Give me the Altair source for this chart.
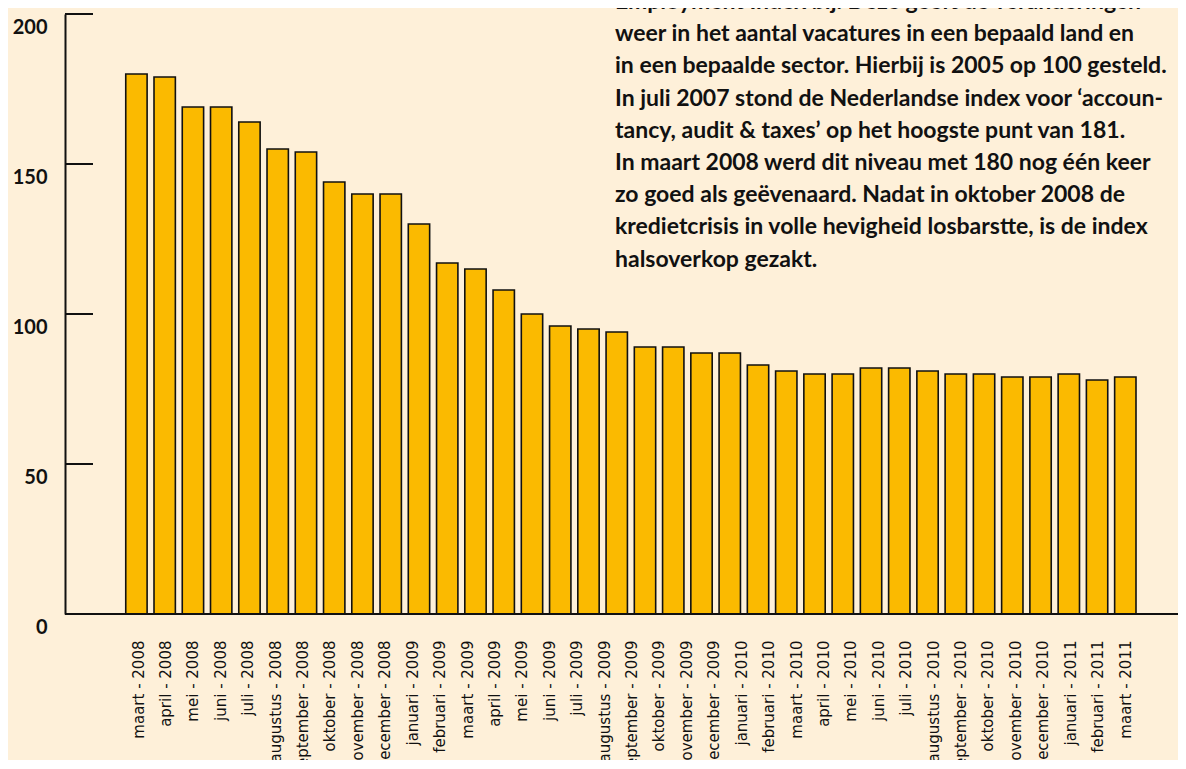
import altair as alt
import pandas as pd

# Bar values (36 bars)
bar_values = [180, 179, 169, 169, 164, 155, 154, 144, 140, 140,
              130, 117, 115, 108, 100, 96, 95, 94, 89, 89,
              87, 87, 83, 81, 80, 80, 82, 82, 81, 80,
              80, 79, 79, 80, 78, 79]

# Month labels printed under the axis (37 labels)
month_labels = [
    "maart - 2008", "april - 2008", "mei - 2008", "juni - 2008", "juli - 2008",
    "augustus - 2008", "september - 2008", "oktober - 2008", "november - 2008",
    "december - 2008", "januari - 2009", "februari - 2009", "maart - 2009",
    "april - 2009", "mei - 2009", "juni - 2009", "juli - 2009", "augustus - 2009",
    "september - 2009", "oktober - 2009", "november - 2009", "december - 2009",
    "januari - 2010", "februari - 2010", "maart - 2010", "april - 2010",
    "mei - 2010", "juni - 2010", "juli - 2010", "augustus - 2010",
    "september - 2010", "oktober - 2010", "november - 2010", "december - 2010",
    "januari - 2011", "februari - 2011", "maart - 2011",
]

y_ticks = [0, 50, 100, 150, 200]
inner_ticks = [50, 100, 150, 200]
baseline_value = [0]

annotation_lines = [
    "Employment Index bij. Deze geeft de veranderingen",
    "weer in het aantal vacatures in een bepaald land en",
    "in een bepaalde sector. Hierbij is 2005 op 100 gesteld.",
    "In juli 2007 stond de Nederlandse index voor \u2018accoun-",
    "tancy, audit & taxes\u2019 op het hoogste punt van 181.",
    "In maart 2008 werd dit niveau met 180 nog \u00e9\u00e9n keer",
    "zo goed als ge\u00ebvenaard. Nadat in oktober 2008 de",
    "kredietcrisis in volle hevigheid losbarstte, is de index",
    "halsoverkop gezakt.",
]

BG = "#FEF0D9"
BAR = "#FBBA00"
INK = "#111111"
PLOT_W = 1113

bars_df = pd.DataFrame({"idx": list(range(len(bar_values))), "value": bar_values})
labels_df = pd.DataFrame({"month": month_labels})
ticks_df = pd.DataFrame({"t": inner_ticks})
base_df = pd.DataFrame({"b": baseline_value})
text_df = pd.DataFrame({"t": ["\n".join(annotation_lines)]})

y_scale = alt.Scale(domain=[0, 200], nice=False, zero=True)

bars = alt.Chart(bars_df).mark_bar(
    fill=BAR, stroke=INK, strokeWidth=1.6
).encode(
    x=alt.X("idx:O", axis=None,
            scale=alt.Scale(paddingInner=0.244, paddingOuter=0, range=[60.75, 1071], round=False)),
    y=alt.Y("value:Q", scale=y_scale,
            axis=alt.Axis(values=y_ticks, title=None, grid=False, ticks=False, tickSize=0,
                          labelPadding=18, labelOffset=13, labelFont="Lato",
                          labelFontSize=20, labelFontWeight="bold", labelColor=INK,
                          labelFlush=False, domainColor=INK, domainWidth=2)),
)

tick_rules = alt.Chart(ticks_df).mark_rule(color=INK, strokeWidth=2).encode(
    y=alt.Y("t:Q", scale=y_scale),
    x=alt.value(0),
    x2=alt.value(28),
)

base_rule = alt.Chart(base_df).mark_rule(color=INK, strokeWidth=2.2).encode(
    y=alt.Y("b:Q", scale=y_scale),
    x=alt.value(0),
    x2=alt.value(PLOT_W),
)

month_axis = alt.Chart(labels_df).mark_point(opacity=0).encode(
    x=alt.X("month:N", sort=month_labels,
            scale=alt.Scale(type="point", padding=0, range=[73, 1060]),
            axis=alt.Axis(title=None, labelAngle=-90, ticks=False, tickSize=0, domain=False,
                          labelPadding=26, labelFont="DejaVu Sans", labelFontSize=15,
                          labelColor=INK, labelOverlap=False, labelFlush=False,
                          labelLimit=300, grid=False)),
)

note = alt.Chart(text_df).mark_text(
    align="left", baseline="alphabetic", lineBreak="\n", lineHeight=32.2,
    font="Lato", fontSize=23, fontWeight="bold", color=INK,
).encode(
    text="t:N",
    x=alt.value(550),
    y=alt.value(-5),
)

chart = alt.layer(bars, tick_rules, base_rule, month_axis, note).resolve_scale(
    x="independent"
).properties(
    width=PLOT_W,
    height=600,
    autosize=alt.AutoSizeParams(type="none"),
    padding={"left": 57, "top": 6, "right": 0, "bottom": 146},
    background=BG,
).configure_view(stroke=None)

chart.save("out.html", embed_options={"renderer": "svg", "actions": False})
